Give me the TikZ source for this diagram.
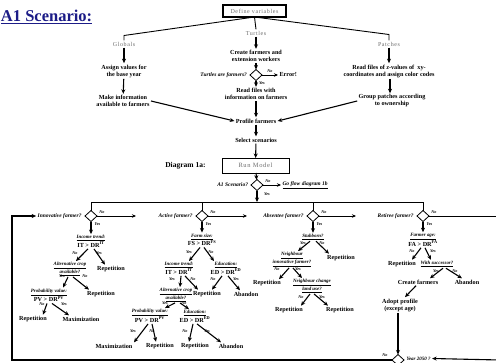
\documentclass[tikz,border=0pt]{standalone}
\usepackage{fontspec}
\setmainfont{Liberation Serif}
\usetikzlibrary{arrows.meta,shapes.geometric}
\definecolor{navytitle}{RGB}{28,28,135}
\definecolor{greylabel}{RGB}{110,110,110}
\newcommand\uit[1]{\textit{\underline{#1}}}
\newcommand\drx[2]{{\fontsize{6.2}{6}\selectfont #1 > DR\textsuperscript{#2}}}
\begin{document}
\begin{tikzpicture}[x=1pt,y=-1pt,
  every node/.style={inner sep=0pt,outer sep=1.5pt,align=center},
  grp/.style={font=\fontsize{6}{7}\selectfont\addfontfeature{LetterSpace=10},text=greylabel},
  txt/.style={font=\fontsize{6.2}{7}\selectfont\bfseries},
  res/.style={font=\fontsize{6.2}{7}\selectfont\bfseries},
  cnd/.style={font=\fontsize{4.9}{5.8}\selectfont\bfseries},
  ask/.style={font=\fontsize{5.5}{6}\selectfont\bfseries\itshape},
  tag/.style={font=\fontsize{4.2}{5}\selectfont\bfseries\itshape},
  dec/.style={draw,diamond,minimum width=12pt,minimum height=11pt,line width=0.8pt,outer sep=0pt},
  flow/.style={-{Stealth[length=4.5pt,width=4pt]},line width=1.1pt},
  thinflow/.style={-{Stealth[length=4pt,width=3.5pt]},line width=0.8pt},
  link/.style={line width=0.9pt},
]
\useasboundingbox (0,0) rectangle (496,362);
\fill[white] (0,0) rectangle (496,362);
\begin{scope}
\clip (0,0) rectangle (496,362);

% ---------- heading ----------
\node[font=\fontsize{16.5}{18}\selectfont\bfseries,text=navytitle,anchor=west] (title) at (-0.5,17) {\underline{A1 Scenario:}};

% ---------- set-up section ----------
\node[draw,line width=1.1pt,minimum width=63pt,minimum height=12pt,grp,outer sep=0pt] (def) at (254.5,11) {Define variables};
\node[grp] (glob) at (124,44) {Globals};
\node[grp] (turt) at (256,33) {Turtles};
\node[grp] (patch) at (389,44) {Patches};
\coordinate (gbend) at (124,35.5);
\coordinate (pbend) at (389,34.5);
\draw[link] (def.south) -- (gbend) -- (glob.north);
\draw[link] (def.south) -- (pbend) -- (patch.north);
\draw[link] (def.south) -- (turt.north);

% globals
\node[txt] (assign) at (124,71) {Assign values for\\the base year};
\node[txt] (inform) at (123,101) {Make information\\available to farmers};
\draw[flow] (glob) -- (assign);
\draw[flow] (assign) -- (inform);

% turtles
\node[txt] (create) at (256,56) {Create farmers and\\extension workers};
\node[dec] (isfarm) at (256,75) {};
\node[ask,anchor=east] (isfarmq) at ([xshift=-1.5pt]isfarm.west) {Turtles are farmers?};
\node[res,anchor=west] (err) at (278,75) {Error!};
\node[tag] (isfarmno) at (270,71) {No};
\node[tag] (isfarmyes) at (262,83) {Yes};
\draw[thinflow] (isfarm.east) -- (err.west);
\node[txt] (readf) at (256,94) {Read files with\\information on farmers};
\draw[flow] (turt) -- (create);
\draw[flow] (create) -- (isfarm);
\draw[flow] (isfarm) -- (readf);
\node[txt] (profile) at (256,121) {Profile farmers};
\draw[flow] (readf) -- (profile);
\node[txt] (select) at (256,140) {Select scenarios};
\draw[flow] (profile) -- (select);
\node[draw,link,minimum width=67pt,minimum height=15pt,outer sep=0pt,
      font=\fontsize{6.5}{7}\selectfont\addfontfeature{LetterSpace=10},text=greylabel] (run) at (255.5,165.5) {Run Model};
\draw[flow] (select) -- (run);
\node[font=\fontsize{7.5}{8}\selectfont\bfseries,anchor=east] (diag) at (207,166) {Diagram 1a:};

% patches
\node[txt] (readz) at (389,71) {Read files of \textit{z}-values of~ xy-\\coordinates and assign color codes};
\node[txt] (group) at (392,101) {Group patches according\\to ownership};
\draw[flow] (patch) -- (readz);
\draw[flow] ([xshift=1pt]readz.south) -- ([xshift=-2pt]group.north);

\draw[flow] (inform.east) -- (profile.west);
\draw[flow] (group.west) -- (profile.east);

% ---------- scenario test ----------
\node[dec] (a1) at (257,185) {};
\node[ask,anchor=east] (a1q) at ([xshift=-1.5pt]a1.west) {A1 Scenario?};
\node[tag] (a1no) at (268,181.5) {No};
\node[tag] (a1yes) at (267,194.5) {Yes};
\node[ask,anchor=west] (goflow) at (281,185) {\underline{Go flow diagram 1b}};
\draw[thinflow] (a1.east) -- (goflow.west);
\draw[flow] (run) -- (a1);
\coordinate (hub) at (257,202);
\draw[flow] (a1) -- (hub);

% ---------- farmer types ----------
\node[dec] (inn) at (91,216) {};
\node[dec] (act) at (202,216) {};
\node[dec] (abs) at (313,216) {};
\node[dec] (ret) at (423,216) {};
\draw[link] (inn.north) -- (inn.north |- hub) -- (ret.north |- hub) -- (ret.north);
\draw[link] (act.north) -- (act.north |- hub);
\draw[link] (abs.north) -- (abs.north |- hub);

\node[ask,anchor=east] (innq) at ([xshift=-2pt]inn.west) {Innovative farmer?};
\node[ask,anchor=east] (actq) at ([xshift=-2pt]act.west) {Active farmer?};
\node[ask,anchor=east] (absq) at ([xshift=-2pt]abs.west) {Absentee farmer?};
\node[ask,anchor=east] (retq) at ([xshift=-2pt]ret.west) {Retiree farmer?};

\foreach \d/\x in {inn/91,act/202,abs/313,ret/423}{
  \node[tag] (\d no) at (\x+11,212.5) {No};
  \node[tag] (\d yes) at (\x+6.5,224.5) {Yes};
}
\coordinate (innend) at (136,216);
\coordinate (actend) at (247,216);
\coordinate (absend) at (356,216);
\coordinate (edgeR) at (500,216);
\draw[thinflow] (inn.east) -- (innend);
\draw[thinflow] (act.east) -- (actend);
\draw[thinflow] (abs.east) -- (absend);
\draw[link] (ret.east) -- (edgeR);

% ---------- innovative farmer ----------
\node[cnd] (it1) at (91,241.5) {\uit{Income trend:}\\\drx{IT}{IT}};
\draw[flow] (inn) -- (it1);
\node[tag] at (75,253) {No};
\node[tag] at (99,253) {Yes};
\node[cnd] (alt1) at (70,269) {\uit{Alternative crop}\\\uit{available?}};
\node[res] (rep1) at (111,269) {Repetition};
\draw[flow] ([xshift=-3pt]it1.south) -- ([xshift=6pt]alt1.north);
\draw[flow] ([xshift=3pt]it1.south) -- ([xshift=-6pt]rep1.north);
\node[tag] at (62,276.5) {Yes};
\node[tag] at (85,276.5) {No};
\node[cnd] (pv1) at (49,295.5) {\uit{Probability value:}\\\drx{PV}{PV}};
\node[res] (rep2) at (101,294) {Repetition};
\draw[flow] ([xshift=-2pt]alt1.south) -- ([xshift=14pt]pv1.north);
\draw[flow] ([xshift=3pt]alt1.south) -- ([xshift=-12pt]rep2.north);
\node[tag] at (42,304) {No};
\node[tag] at (64,304) {Yes};
\node[res] (rep3) at (33,319) {Repetition};
\node[res] (max1) at (81,319) {Maximization};
\draw[flow] ([xshift=-2pt]pv1.south) -- ([xshift=10pt]rep3.north);
\draw[flow] ([xshift=3pt]pv1.south) -- ([xshift=-12pt]max1.north);

% ---------- active farmer ----------
\node[cnd] (fs) at (202,240) {\uit{Farm size:}\\\drx{FS}{FS}};
\draw[flow] (act) -- (fs);
\node[tag] at (189,252) {Yes};
\node[tag] at (211,252) {No};
\node[cnd] (it2) at (179,268.5) {\uit{Income trend:}\\\drx{IT}{IT}};
\node[cnd] (ed1) at (226,268.5) {\uit{Education:}\\\drx{ED}{ED}};
\draw[flow] ([xshift=-2pt]fs.south) -- ([xshift=10pt]it2.north);
\draw[flow] ([xshift=2pt]fs.south) -- ([xshift=-12pt]ed1.north);
\node[tag] at (172,279) {Yes};
\node[tag] at (193,279) {No};
\node[tag] at (213,279) {No};
\node[tag] at (236,279) {Yes};
\node[cnd] (alt2) at (176,295) {\uit{Alternative crop}\\\uit{available?}};
\node[res] (rep4) at (207,294) {Repetition};
\node[res] (ab1) at (246,294) {Abandon};
\draw[flow] ([xshift=2pt]it2.south) -- ([xshift=4pt]alt2.north);
\draw[flow] ([xshift=6pt]it2.south) -- ([xshift=-9pt]rep4.north);
\draw[flow] ([xshift=-4pt]ed1.south) -- ([xshift=5pt]rep4.north);
\draw[flow] ([xshift=2pt]ed1.south) -- ([xshift=-6pt]ab1.north);
\node[tag] at (165,303.5) {Yes};
\node[tag] at (184,303.5) {No};
\node[cnd] (pv2) at (150,316) {\uit{Probability value:}\\\drx{PV}{PV}};
\node[cnd] (ed2) at (195,316.5) {\uit{Education:}\\\drx{ED}{ED}};
\draw[flow] ([xshift=-1pt]alt2.south) -- ([xshift=15pt]pv2.north);
\draw[flow] ([xshift=4pt]alt2.south) -- ([xshift=-6pt]ed2.north);
\node[tag] at (133,331) {Yes};
\node[tag] at (152,331) {No};
\node[tag] at (185,331) {No};
\node[tag] at (207,331) {Yes};
\node[res] (max2) at (114,346) {Maximization};
\node[res] (rep5) at (160,346) {Repetition};
\node[res] (rep6) at (195,346) {Repetition};
\node[res] (ab2) at (231,346) {Abandon};
\draw[flow] ([xshift=-2pt]pv2.south) -- ([xshift=20pt]max2.north);
\draw[flow] ([xshift=2pt]pv2.south) -- ([xshift=-4pt]rep5.north);
\draw[flow] ([xshift=-2pt]ed2.south) -- ([xshift=-6pt]rep6.north);
\draw[flow] ([xshift=2pt]ed2.south) -- ([xshift=-10pt]ab2.north);

% ---------- absentee farmer ----------
\node[cnd] (stub) at (313,237) {\uit{Stubborn?}};
\draw[flow] (abs) -- (stub);
\node[tag] at (303,243.5) {Yes};
\node[tag] at (322,243.5) {No};
\node[cnd] (nbi) at (292,259.5) {\uit{Neighbour}\\\uit{innovative farmer?}};
\node[res] (rep7) at (341,258) {Repetition};
\draw[flow] ([xshift=-3pt]stub.south) -- ([xshift=6pt]nbi.north);
\draw[flow] ([xshift=3pt]stub.south) -- ([xshift=-12pt]rep7.north);
\node[tag] at (277,269.5) {No};
\node[tag] at (298,269.5) {Yes};
\node[res] (rep8) at (267,283.5) {Repetition};
\node[cnd] (nbc) at (312,286) {\uit{Neighbour change}\\\uit{land use?}};
\draw[flow] ([xshift=-3pt]nbi.south) -- ([xshift=12pt]rep8.north);
\draw[flow] ([xshift=1pt]nbi.south) -- ([xshift=-10pt]nbc.north);
\node[tag] at (301,297.5) {No};
\node[tag] at (322,297.5) {Yes};
\node[res] (rep9) at (289,310) {Repetition};
\node[res] (rep10) at (340,310) {Repetition};
\draw[flow] ([xshift=-2pt]nbc.south) -- ([xshift=12pt]rep9.north);
\draw[flow] ([xshift=2pt]nbc.south) -- ([xshift=-12pt]rep10.north);

% ---------- retiree farmer ----------
\node[cnd] (fa) at (423,240) {\uit{Farmer age:}\\\drx{FA}{FA}};
\draw[flow] (ret) -- (fa);
\node[tag] at (412,251) {No};
\node[tag] at (433,251) {Yes};
\node[res] (rep11) at (402,264) {Repetition};
\node[cnd] (succ) at (437,264) {\uit{With successor?}};
\draw[flow] ([xshift=-2pt]fa.south) -- ([xshift=10pt]rep11.north);
\draw[flow] ([xshift=2pt]fa.south) -- ([xshift=-6pt]succ.north);
\node[tag] at (436,271) {Yes};
\node[tag] at (455,271) {No};
\node[res] (create2) at (418,282) {Create farmers};
\node[res] (ab3) at (467,282) {Abandon};
\draw[flow] ([xshift=6pt]succ.south) -- ([xshift=12pt]create2.north);
\draw[flow] ([xshift=9pt]succ.south) -- ([xshift=-5pt]ab3.north);
\node[txt] (adopt) at (400,305) {Adopt profile\\(except age)};
\draw[flow] ([xshift=-2pt]create2.south) -- ([xshift=5pt]adopt.north);

% ---------- loop test ----------
\node[dec] (yr) at (398,360) {};
\node[tag] (yrno) at (385,355.5) {No};
\node[ask,anchor=west,font=\fontsize{5}{6}\selectfont\bfseries\itshape] (yrq) at (405,358.5) {Year 2050 ?};
\draw[flow] ([xshift=-2pt]adopt.south) -- (yr.north);
\coordinate (loopB) at (12,360);
\coordinate (loopT) at (12,216);
\coordinate (edgeB) at (500,360);
\draw[flow] (yr.west) -- (loopB) -- (loopT) -- (innq.west);
\draw[flow] (edgeB) -- (yrq.east);
\end{scope}
\end{tikzpicture}
\end{document}
